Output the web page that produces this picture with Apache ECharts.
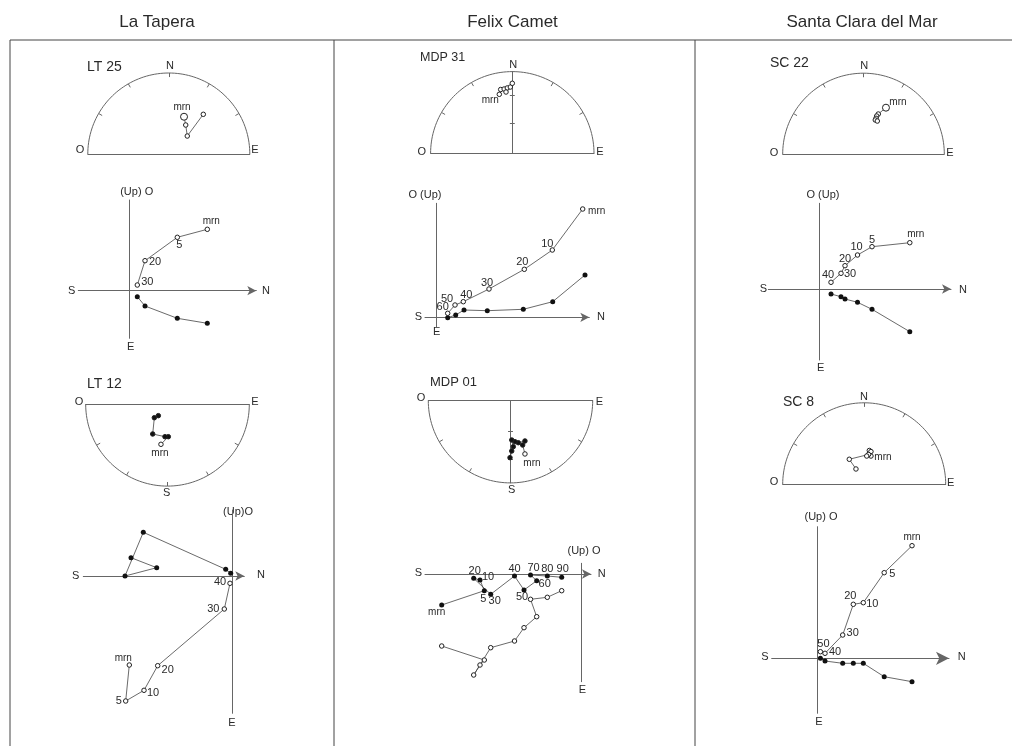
<!DOCTYPE html>
<html>
<head>
<meta charset="utf-8">
<script src="https://cdn.jsdelivr.net/npm/echarts@6/dist/echarts.min.js"></script>
<style>html,body{margin:0;padding:0;background:#fff}#chart-container{width:1012px;height:746px}</style>
</head>
<body>
<div id="chart-container"></div>
<script>
// sitios (encabezados de columna)
var sitios = ['La Tapera', 'Felix Camet', 'Santa Clara del Mar'];

// redes de igual area: x, y en radios de la red (mrn primero)
var lt25RedX = [0.188, 0.209, 0.228, 0.426];
var lt25RedY = [0.46, 0.358, 0.222, 0.49];
var lt12RedX = [-0.08, 0.01, -0.031, -0.181, -0.161, -0.112];
var lt12RedY = [-0.489, -0.396, -0.396, -0.363, -0.164, -0.139];
var lt12RedLleno = [false, true, true, true, true, true];
var mdp31RedX = [-0.159, -0.142, -0.1, -0.061, -0.077, -0.024, 0];
var mdp31RedY = [0.722, 0.781, 0.787, 0.8, 0.75, 0.811, 0.857];
var mdp01RedX = [0.176, 0.148, 0.176, 0.095, 0.055, 0.015, 0.034, 0.015, -0.006];
var mdp01RedY = [-0.648, -0.539, -0.49, -0.511, -0.499, -0.478, -0.56, -0.612, -0.693];
var mdp01RedLleno = [false, true, true, true, true, true, true, true, true];
var sc22RedX = [0.278, 0.183, 0.163, 0.155, 0.146, 0.171];
var sc22RedY = [0.573, 0.495, 0.47, 0.442, 0.421, 0.408];
var sc8RedX = [0.083, 0.063, 0.083, 0.053, 0.031, -0.183, -0.101];
var sc8RedY = [0.347, 0.415, 0.402, 0.366, 0.347, 0.307, 0.188];

// diagramas de Zijderveld (N en horizontal, proyeccion vertical y horizontal)
var lt25Pasos = ['mrn', '5', '20', '30'];
var lt25N = [78, 48, 15.7, 8];
var lt25Vert = [61.4, 53.4, 30, 5.7];
var lt25Hor = [-32.6, -27.6, -15.3, -6];

var lt12Pasos = ['mrn', '5', '10', '20', '30', '40'];
var lt12NVert = [-103, -106.6, -88.3, -74.6, -8, -2.3];
var lt12Vert = [-89, -125, -114.3, -89.7, -33, -7.3];
var lt12NHor = [-101.3, -75.6, -107.3, -89, -6.6, -1.6];
var lt12Hor = [18.3, 8.3, 0, 43.7, 6.7, 2.7];

var mdp31Pasos = ['mrn', '10', '20', '30', '40', '50', '60'];
var mdp31NVert = [146, 115.6, 87.6, 52.3, 26.6, 18.3, 11];
var mdp31Vert = [108.3, 67.3, 48, 28.3, 15.6, 12.3, 4];
var mdp31NHor = [148.3, 116, 86.6, 50.6, 27.3, 19, 11];
var mdp31Hor = [42.3, 15.6, 8, 6.6, 7.3, 2.3, -0.4];

var mdp01Pasos = ['mrn', '5', '10', '20', '30', '40', '50', '60', '70', '80', '90'];
var mdp01N = [-139.3, -96.7, -101, -107.3, -90.3, -66.5, -57, -44.3, -50.5, -33.7, -19.3];
var mdp01Vert = [-72, -86, -91, -101, -73.7, -67, -53.7, -42.7, -25.3, -23.3, -16.7];
var mdp01Hor = [-31, -16.7, -6, -4.3, -20.3, -2, -16, -6.7, -1, -2, -3.3];

var sc22Pasos = ['mrn', '5', '10', '20', '30', '40'];
var sc22N = [90.5, 52.7, 38.2, 25.7, 21.7, 11.7];
var sc22Vert = [46.3, 42.3, 34, 23.3, 15.7, 6.7];
var sc22Hor = [-42.7, -20.3, -13.3, -10, -7.7, -5];

var sc8Pasos = ['mrn', '5', '10', '20', '30', '40', '50'];
var sc8N = [94.3, 66.5, 45.6, 35.6, 25, 7.3, 2.7];
var sc8Vert = [112.6, 85.6, 55.6, 54, 23.3, 5, 6.6];
var sc8Hor = [-23.4, -18.4, -5, -5, -5, -2.7, 0];

// desplazamiento de las etiquetas de cada paso (px)
var lt25Desp = [[4, -8], [2, 8], [10, 1], [10, -3]];
var lt12Desp = [[-6, -7], [-7, 0], [9, 3], [10, 4], [-11, 0], [-10, -1]];
var mdp31Desp = [[14, 2], [-5, -6], [-2, -7], [-2, -6], [3, -7], [-8, -6], [-5, -6]];
var mdp01Desp = [[-5, 7], [-1, 8], [8, -3], [1, -7], [4, 7], [0, -7], [-2, 7], [8, 3], [3, -7], [0, -7], [1, -8]];
var sc22Desp = [[6, -8], [0, -7], [-1, -8], [0, -7], [9, 1], [-3, -7]];
var sc8Desp = [[0, -8], [8, 1], [9, 1], [-3, -8], [10, -2], [10, -1], [3, -8]];

var dom = document.getElementById('chart-container');
var myChart = echarts.init(dom, null, { renderer: 'canvas' });

var fuente = '"Liberation Sans", Arial, sans-serif';
var gris = '#666';
var tinta = '#2a2a2a';
var grids = [], xAxes = [], yAxes = [], series = [], graphics = [];

function texto(x, y, s, size, align) {
  graphics.push({
    type: 'text', x: x, y: y, silent: true,
    style: { text: s, fill: tinta, font: size + 'px ' + fuente, align: align || 'center', verticalAlign: 'middle' }
  });
}

function linea(x1, y1, x2, y2) {
  graphics.push({ type: 'line', silent: true, shape: { x1: x1, y1: y1, x2: x2, y2: y2 }, style: { stroke: '#444', lineWidth: 1 } });
}

function ejeOculto(extra) {
  var a = {
    type: 'value', axisTick: { show: false }, axisLabel: { show: false }, splitLine: { show: false }
  };
  for (var k in extra) a[k] = extra[k];
  return a;
}

// red estereografica (semicirculo)
function red(g, xs, ys, llenos, abajo, conVertical, grande, mrnDesp) {
  var i = grids.length;
  var s = abajo ? -1 : 1;
  grids.push({ left: g.cx - g.r, top: abajo ? g.cy : g.cy - g.r, width: 2 * g.r, height: g.r });
  xAxes.push(ejeOculto({ gridIndex: i, min: -1, max: 1, axisLine: { show: true, onZero: true, lineStyle: { color: gris, width: 1 } } }));
  yAxes.push(ejeOculto({ gridIndex: i, min: abajo ? -1 : 0, max: abajo ? 0 : 1, axisLine: { show: conVertical, onZero: true, lineStyle: { color: gris, width: 1 } } }));
  var arco = [];
  for (var a = 0; a <= 180; a += 2) arco.push([Math.cos(a * Math.PI / 180), s * Math.sin(a * Math.PI / 180)]);
  series.push({ type: 'line', xAxisIndex: i, yAxisIndex: i, data: arco, symbol: 'none', clip: false, silent: true, lineStyle: { color: gris, width: 1 } });
  var marcas = [];
  [-60, -30, 0, 30, 60].forEach(function (d) {
    var t = d * Math.PI / 180;
    marcas.push({ coords: [[Math.sin(t), s * Math.cos(t)], [0.95 * Math.sin(t), s * 0.95 * Math.cos(t)]] });
  });
  if (conVertical) {
    [30, 60].forEach(function (inc) {
      var r = Math.SQRT2 * Math.sin((90 - inc) / 2 * Math.PI / 180);
      marcas.push({ coords: [[-0.03, s * r], [0.03, s * r]] });
    });
  }
  series.push({ type: 'lines', coordinateSystem: 'cartesian2d', xAxisIndex: i, yAxisIndex: i, data: marcas, silent: true, lineStyle: { color: gris, width: 1, opacity: 1 } });
  var datos = xs.map(function (x, k) {
    var lleno = llenos ? llenos[k] : false;
    return {
      value: [x, ys[k]],
      symbolSize: (k === 0 && grande) ? 7 : 4.5,
      itemStyle: { color: lleno ? '#111' : '#fff', borderColor: '#222', borderWidth: 1 }
    };
  });
  datos[0].label = { show: true, formatter: 'mrn', position: 'inside', offset: mrnDesp, color: tinta, fontSize: 10, fontFamily: fuente };
  series.push({
    type: 'line', xAxisIndex: i, yAxisIndex: i, data: datos, symbol: 'circle', showAllSymbol: true, clip: false,
    lineStyle: { color: '#444', width: 0.8 }
  });
}

// diagrama de Zijderveld
function zij(g, nV, vV, nH, vH, pasos, desp, enLlenos, flecha) {
  var i = grids.length;
  grids.push({ left: g.ox + g.x0, top: g.oy - g.y1, width: g.x1 - g.x0, height: g.y1 - g.y0 });
  xAxes.push(ejeOculto({ gridIndex: i, min: g.x0, max: g.x1, axisLine: { show: true, onZero: true, symbol: ['none', 'arrow'], symbolSize: flecha, lineStyle: { color: gris, width: 1 } } }));
  yAxes.push(ejeOculto({ gridIndex: i, min: g.y0, max: g.y1, axisLine: { show: true, onZero: true, lineStyle: { color: gris, width: 1 } } }));
  function armar(ns, vs, conEtiq) {
    return ns.map(function (n, k) {
      var d = { value: [n, vs[k]] };
      if (conEtiq) d.label = { show: true, formatter: pasos[k], position: 'inside', offset: desp[k], color: tinta, fontSize: pasos[k] === 'mrn' ? 10 : 11, fontFamily: fuente };
      return d;
    });
  }
  series.push({
    type: 'line', xAxisIndex: i, yAxisIndex: i, data: armar(nH, vH, enLlenos), symbol: 'circle', symbolSize: 5, showAllSymbol: true, clip: false,
    itemStyle: { color: '#111' }, lineStyle: { color: '#444', width: 0.8 }
  });
  series.push({
    type: 'line', xAxisIndex: i, yAxisIndex: i, data: armar(nV, vV, !enLlenos), symbol: 'circle', symbolSize: 4.5, showAllSymbol: true, clip: false,
    itemStyle: { color: '#fff', borderColor: '#222', borderWidth: 1 }, lineStyle: { color: '#444', width: 0.8 }
  });
}

// marco general
linea(10, 40, 1012, 40);
linea(10, 40, 10, 746);
linea(334, 40, 334, 746);
linea(695, 40, 695, 746);
texto(157, 22, sitios[0], 17);
texto(512.5, 22, sitios[1], 17);
texto(862, 22, sitios[2], 17);

// La Tapera
red({ cx: 168.8, cy: 154, r: 81 }, lt25RedX, lt25RedY, null, false, false, true, [-2, -9]);
texto(87, 67, 'LT 25', 14, 'left'); texto(170, 66, 'N', 11); texto(80, 150, 'O', 11); texto(255, 150, 'E', 11);
zij({ ox: 129.3, oy: 290.7, x0: -51, x1: 127, y0: -47.6, y1: 90.7 }, lt25N, lt25Vert, lt25N, lt25Hor, lt25Pasos, lt25Desp, false, [7, 9]);
texto(136.7, 192.3, '(Up) O', 11); texto(71.7, 290.7, 'S', 11); texto(266, 291, 'N', 11); texto(130.7, 346.7, 'E', 11);

red({ cx: 167.5, cy: 404.3, r: 81.8 }, lt12RedX, lt12RedY, lt12RedLleno, true, false, false, [-1, 9]);
texto(87, 384, 'LT 12', 14, 'left'); texto(79, 401.7, 'O', 11); texto(255, 401.7, 'E', 11); texto(166.7, 493.3, 'S', 11);
zij({ ox: 232.3, oy: 576, x0: -149, x1: 12, y0: -137.3, y1: 66 }, lt12NVert, lt12Vert, lt12NHor, lt12Hor, lt12Pasos, lt12Desp, false, [7, 9]);
texto(238, 511.5, '(Up)O', 11); texto(75.7, 576, 'S', 11); texto(261, 575, 'N', 11); texto(232, 723, 'E', 11);

// Felix Camet
red({ cx: 512.3, cy: 153.3, r: 81.7 }, mdp31RedX, mdp31RedY, null, false, true, false, [-9, 6]);
texto(420, 58, 'MDP 31', 12.5, 'left'); texto(513.3, 65, 'N', 11); texto(421.7, 151.7, 'O', 11); texto(600, 151.7, 'E', 11);
zij({ ox: 436.7, oy: 317.3, x0: -11.7, x1: 152.6, y0: -9.4, y1: 114 }, mdp31NVert, mdp31Vert, mdp31NHor, mdp31Hor, mdp31Pasos, mdp31Desp, false, [7, 9]);
texto(425, 195, 'O (Up)', 11); texto(418.3, 317.3, 'S', 11); texto(601, 316.7, 'N', 11); texto(436.7, 331.7, 'E', 11);

red({ cx: 510.5, cy: 400.7, r: 82.2 }, mdp01RedX, mdp01RedY, mdp01RedLleno, true, true, false, [7, 9]);
texto(430, 382, 'MDP 01', 13, 'left'); texto(421, 398.3, 'O', 11); texto(599.3, 401.7, 'E', 11); texto(511.7, 490, 'S', 11);
zij({ ox: 581, oy: 574, x0: -156, x1: 10, y0: -107.7, y1: 10.7 }, mdp01N, mdp01Vert, mdp01N, mdp01Hor, mdp01Pasos, mdp01Desp, true, [7, 9]);
texto(584, 551, '(Up) O', 11); texto(418.3, 573.3, 'S', 11); texto(601.7, 574, 'N', 11); texto(582.3, 690, 'E', 11);

// Santa Clara del Mar
red({ cx: 863.5, cy: 154, r: 80.8 }, sc22RedX, sc22RedY, null, false, false, true, [12, -5]);
texto(770, 63, 'SC 22', 14, 'left'); texto(864.3, 66, 'N', 11); texto(774, 153.3, 'O', 11); texto(950, 153.3, 'E', 11);
zij({ ox: 819.3, oy: 289, x0: -51, x1: 131.7, y0: -71, y1: 85.7 }, sc22N, sc22Vert, sc22N, sc22Hor, sc22Pasos, sc22Desp, false, [7, 9]);
texto(823, 195, 'O (Up)', 11); texto(763.3, 289, 'S', 11); texto(963, 290, 'N', 11); texto(820.7, 368.3, 'E', 11);

red({ cx: 864.2, cy: 484.3, r: 81.5 }, sc8RedX, sc8RedY, null, false, false, false, [12, 1]);
texto(783, 402, 'SC 8', 14, 'left'); texto(864, 397.3, 'N', 11); texto(774, 482.3, 'O', 11); texto(950.7, 483.3, 'E', 11);
zij({ ox: 817.7, oy: 658.3, x0: -46, x1: 131.3, y0: -55, y1: 131.6 }, sc8N, sc8Vert, sc8N, sc8Hor, sc8Pasos, sc8Desp, false, [10, 13]);
texto(821, 517, '(Up) O', 11); texto(765, 656.7, 'S', 11); texto(961.7, 656.7, 'N', 11); texto(819, 721.7, 'E', 11);

var option = {
  animation: false,
  backgroundColor: '#fff',
  grid: grids,
  xAxis: xAxes,
  yAxis: yAxes,
  series: series,
  graphic: graphics
};

myChart.setOption(option);
window.addEventListener('resize', myChart.resize);
</script>
</body>
</html>
